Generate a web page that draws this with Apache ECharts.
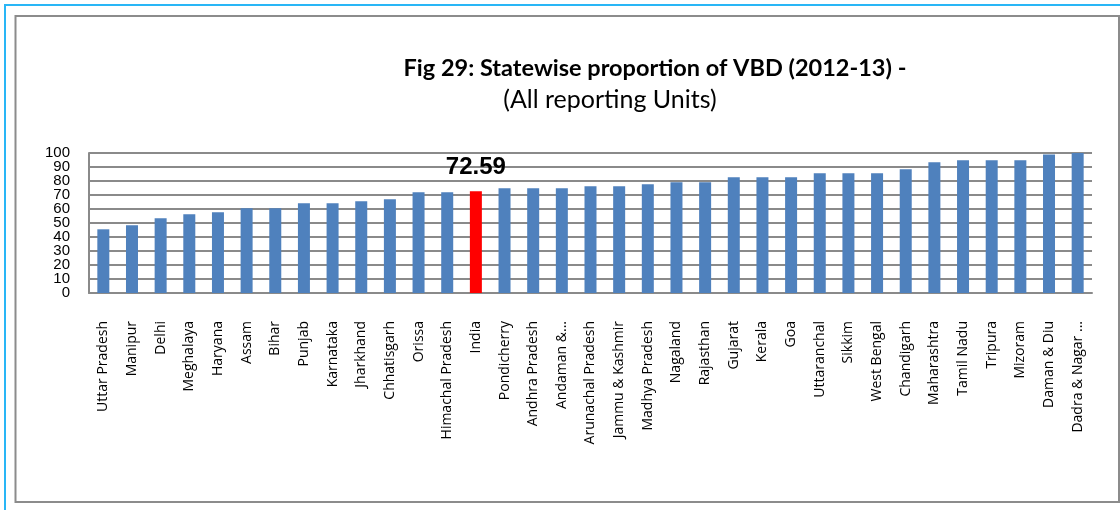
<!DOCTYPE html>
<html>
<head>
<meta charset="utf-8">
<title>Fig 29</title>
<script src="https://cdn.jsdelivr.net/npm/echarts@6/dist/echarts.min.js"></script>
<style>
	html, body { margin: 0; padding: 0; background: #fff; }
	#container { width: 1120px; height: 510px; }
</style>
</head>
<body>
<div id="container"></div>
<script>
var states = ['Uttar Pradesh', 'Manipur', 'Delhi', 'Meghalaya', 'Haryana', 'Assam', 'Bihar', 'Punjab',
	'Karnataka', 'Jharkhand', 'Chhatisgarh', 'Orissa', 'Himachal Pradesh', 'India', 'Pondicherry',
	'Andhra Pradesh', 'Andaman &...', 'Arunachal Pradesh', 'Jammu & Kashmir', 'Madhya Pradesh', 'Nagaland',
	'Rajasthan', 'Gujarat', 'Kerala', 'Goa', 'Uttaranchal', 'Sikkim', 'West Bengal', 'Chandigarh',
	'Maharashtra', 'Tamil Nadu', 'Tripura', 'Mizoram', 'Daman & Diu', 'Dadra & Nagar ...'];
var proportion = [45.5, 48.4, 53.4, 56.2, 57.6, 60.5, 60.5, 64.1, 64.1, 65.5, 67.0, 72.0, 72.0, 72.59, 74.8,
	74.8, 74.8, 76.2, 76.2, 77.6, 79.1, 79.1, 82.6, 82.6, 82.6, 85.5, 85.5, 85.5, 88.4, 93.4, 94.8, 94.8,
	94.8, 99.0, 100];
var highlight = 'India';
// y labels are 14px apart, so they go on two axes or echarts drops some of them
var yTicksEven = [0, 20, 40, 60, 80, 100];
var yTicksOdd = [10, 30, 50, 70, 90];

var myChart = echarts.init(document.getElementById('container'), null, { renderer: 'canvas' });

// India gets the red bar and its value on top
var barData = [];
for (var i = 0; i < states.length; i++) {
	if (states[i] == highlight) {
		barData.push({
			value: proportion[i],
			itemStyle: { color: '#ff0000' },
			label: {
				show: true,
				position: 'top',
				distance: 12,
				formatter: '{c}',
				fontFamily: '"Liberation Sans", sans-serif',
				fontWeight: 'bold',
				fontSize: 24,
				color: '#000'
			}
		});
	} else {
		barData.push(proportion[i]);
	}
}

var yLabelStyle = {
	margin: 19,
	showMinLabel: true,
	showMaxLabel: true,
	fontFamily: '"Liberation Sans", sans-serif',
	fontSize: 15,
	color: '#000'
};

var option = {
	backgroundColor: '#fff',
	animation: false,
	title: [{
		text: 'Fig 29: Statewise proportion of VBD (2012-13) -',
		left: 650,
		top: 51,
		textAlign: 'center',
		textStyle: {
			fontFamily: 'Lato, sans-serif',
			fontWeight: 'bold',
			fontSize: 23.5,
			color: '#000'
		}
	}, {
		text: '(All reporting Units)',
		left: 605,
		top: 82,
		textAlign: 'center',
		textStyle: {
			fontFamily: 'Lato, sans-serif',
			fontWeight: 'normal',
			fontSize: 25,
			color: '#000'
		}
	}],
	grid: { left: 89, right: 28, top: 153, bottom: 217, containLabel: false },
	xAxis: {
		type: 'category',
		data: states,
		axisLine: { lineStyle: { color: '#8a8a8a', width: 2 } },
		axisTick: { show: false },
		axisLabel: {
			interval: 0,
			rotate: 90,
			margin: 28,
			fontFamily: '"Open Sans", sans-serif',
			fontSize: 14,
			color: '#000'
		}
	},
	yAxis: [{
		type: 'value',
		position: 'left',
		min: 0,
		max: 100,
		interval: 10,
		axisLine: { show: true, lineStyle: { color: '#8a8a8a', width: 2 } },
		axisTick: { show: false },
		splitLine: { lineStyle: { color: '#8a8a8a', width: 2 } },
		axisLabel: Object.assign({ customValues: yTicksEven }, yLabelStyle)
	}, {
		type: 'value',
		position: 'left',
		offset: 0,
		min: 0,
		max: 100,
		interval: 10,
		axisLine: { show: false },
		axisTick: { show: false },
		splitLine: { show: false },
		axisLabel: Object.assign({ customValues: yTicksOdd }, yLabelStyle)
	}],
	series: [{
		type: 'bar',
		data: barData,
		barWidth: 12,
		itemStyle: { color: '#4f81bd' }
	}],
	graphic: [{
		type: 'rect',
		shape: { x: 5, y: 5, width: 1130, height: 520 },
		style: { fill: 'none', stroke: '#29b6f6', lineWidth: 2 },
		silent: true
	}, {
		type: 'rect',
		shape: { x: 15.5, y: 16, width: 1103.5, height: 486 },
		style: { fill: 'none', stroke: '#8c8c8c', lineWidth: 2 },
		silent: true
	}]
};

myChart.setOption(option);
</script>
</body>
</html>
